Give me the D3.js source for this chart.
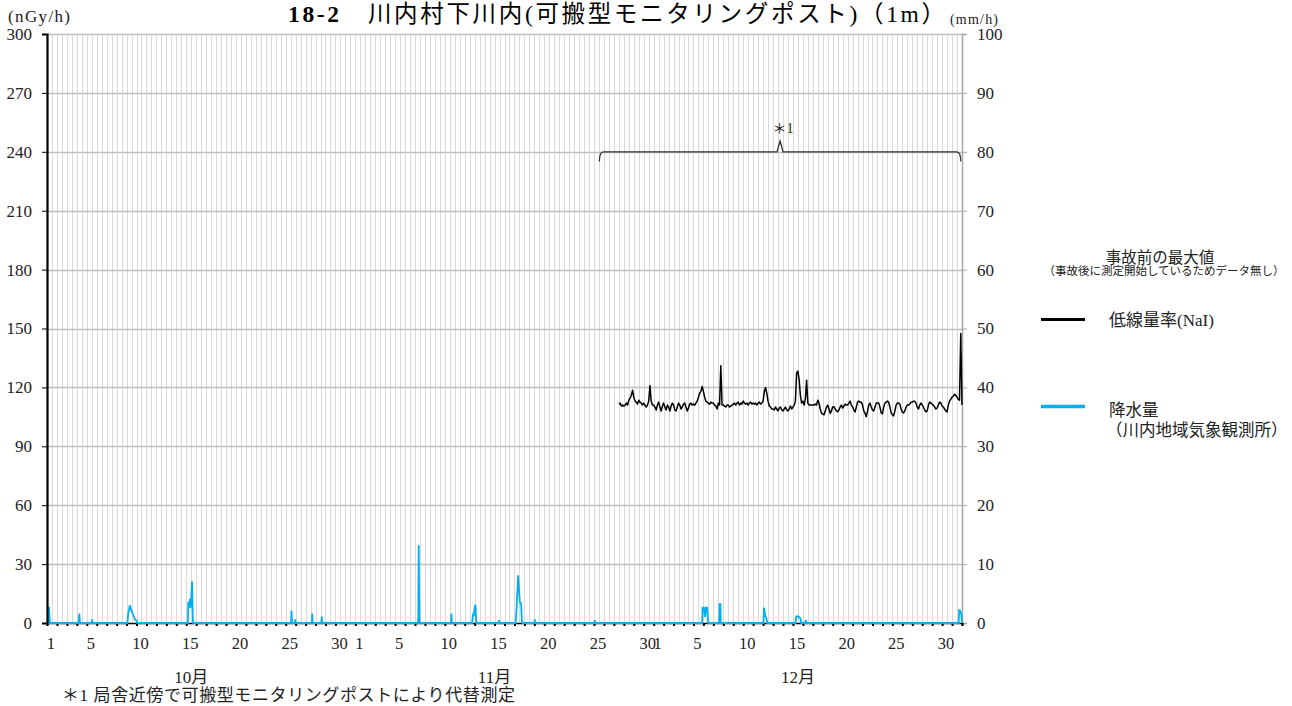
<!DOCTYPE html>
<html><head><meta charset="utf-8">
<script src="https://cdn.jsdelivr.net/npm/d3@7"></script>
<style>body{margin:0;background:#fff} svg{display:block}</style>
</head><body><svg id="c" width="1292" height="706"></svg>
<script>
// ---------- data ----------
const titleBold = "18-2";
const titleRest = "　川内村下川内(可搬型モニタリングポスト)（1m）";
const leftUnit = "(nGy/h)";
const rightUnit = "(mm/h)";
const leftTicks = [0,30,60,90,120,150,180,210,240,270,300];
const rightTicks = [0,10,20,30,40,50,60,70,80,90,100];
const periodStart = "2011-10-01T00";
const periodEnd = "2012-01-01T00";
const months = ["2011-10", "2011-11", "2011-12"];
const tickDays = [1,5,10,15,20,25,30];
const monthLabels = ["10月","11月","12月"];
const monthLabelAt = ["2011-10-15T12","2011-11-15T00","2011-12-15T12"];
const footnote = "＊1 局舎近傍で可搬型モニタリングポストにより代替測定";
const legendTitle = "事故前の最大値";
const legendSub = "（事故後に測定開始しているためデータ無し）";
const doseName = "低線量率(NaI)";
const rainName1 = "降水量";
const rainName2 = "（川内地域気象観測所）";
const bracketStart = "2011-11-25T13";
const bracketEnd = "2011-12-31T21";
const bracketLevel = 240;
const bracketNote = "＊1";

// dose rate (nGy/h), 3-hourly from doseStart
const doseStart = "2011-11-27T12";
const doseStepHours = 3;
const doseValues = [
 111.5,112,110.5,111,
 110.5,111,112,111,113.5,114.5,116,118.5,
 115,113,112.5,111.5,113.5,112.5,112,111,
 112,111,110,111,113,121,113,111,
 111,110,108.5,111,112.5,110,108,110.5,
 112,110,108.5,111,110,108,110.5,112,
 111,108.5,108,110,112,111,109,110,
 111.5,112,110,108,109.5,111.5,112,111,
 111.5,111,112,113,115,117,118,120.5,
 118,115,113,112.5,112,111.5,112.5,112,
 112,111,110.5,109,112,111,131,111,
 111,110.5,110,111,111,110,110.5,111,
 111.5,112,111,112,112.5,111,112,111.5,
 113,112,111.5,112,111,112,112.5,111.5,
 112,111.5,112,111,112,112.5,111.5,112,
 113,118,120,117,113,110.5,110,109,
 109,108.5,110,109,108,109.5,110,108.5,
 108,109,110,108.5,108,109,110.5,109,
 110,111,113,127.5,128.3,124,116,112,
 113,111,114,123.7,112,111,111,111,
 111,111,111.5,111,113.5,112,109,106.8,
 106.5,106,108,110,111,109,106.8,108,
 110,110.2,109,108,107.6,108.5,110,111,
 109.5,110.5,111.5,111,111,112,113,111,
 110,108.5,107.5,110,112.5,113,112.5,112.5,
 111,108,106.8,105.1,108,111,112,110,
 108.5,108,110,112,112,112,110,107,
 106.5,110,112,112.5,113,112.5,110,107,
 106,105.5,108,111,112,112,111.5,109,
 107.5,107,108,110,111,111,111.5,112.5,
 112.5,113,113,112,110,109,111,112,
 111,110,108.5,107.5,108,111,112.5,112,
 111.5,111,110,109,109.5,111,112.5,112,
 110.5,110,109,108,107.5,111,113,114,
 115,115.5,116.5,116,115,114,113.5,147.5,
 111
];

// precipitation (mm/h)
const rainTimes = [
 "2011-10-01T00","2011-10-01T04","2011-10-01T05","2011-10-01T06","2011-10-01T07",
 "2011-10-04T04","2011-10-04T06","2011-10-04T07","2011-10-04T08",
 "2011-10-05T12","2011-10-05T13","2011-10-05T14",
 "2011-10-09T02","2011-10-09T04","2011-10-09T08","2011-10-09T12","2011-10-09T16","2011-10-09T20","2011-10-10T00","2011-10-10T02",
 "2011-10-15T04","2011-10-15T05","2011-10-15T07","2011-10-15T09","2011-10-15T11","2011-10-15T14","2011-10-15T16","2011-10-15T17",
 "2011-10-25T13","2011-10-25T14","2011-10-25T15","2011-10-25T16","2011-10-25T22","2011-10-25T23","2011-10-26T00",
 "2011-10-27T15","2011-10-27T16","2011-10-27T17",
 "2011-10-28T14","2011-10-28T15","2011-10-28T16",
 "2011-11-07T07","2011-11-07T08","2011-11-07T09","2011-11-07T10","2011-11-07T11",
 "2011-11-10T15","2011-11-10T16","2011-11-10T17",
 "2011-11-12T18","2011-11-12T20","2011-11-12T22","2011-11-13T00","2011-11-13T02","2011-11-13T04",
 "2011-11-15T10","2011-11-15T11","2011-11-15T12",
 "2011-11-17T03","2011-11-17T05","2011-11-17T09","2011-11-17T13","2011-11-17T16","2011-11-17T18","2011-11-17T19",
 "2011-11-19T00","2011-11-19T01","2011-11-19T02",
 "2011-11-25T01","2011-11-25T02","2011-11-25T03",
 "2011-12-05T21","2011-12-05T22","2011-12-06T01","2011-12-06T04","2011-12-06T06","2011-12-06T09","2011-12-06T11","2011-12-06T12",
 "2011-12-07T14","2011-12-07T15","2011-12-07T17","2011-12-07T18",
 "2011-12-12T01","2011-12-12T02","2011-12-12T05","2011-12-12T09","2011-12-12T10",
 "2011-12-15T06","2011-12-15T08","2011-12-15T13","2011-12-15T18","2011-12-15T20",
 "2011-12-16T06","2011-12-16T07","2011-12-16T08",
 "2011-12-31T16","2011-12-31T17","2011-12-31T19","2011-12-31T22","2012-01-01T00"
];
const rainValues = [
 0,0,2.7,1.0,0,
 0,1.6,0.5,0,
 0,0.6,0,
 0,1.6,3.0,2.0,1.4,0.6,0.4,0,
 0,3.6,2.5,4.1,2.6,7.1,0.5,0,
 0,2.1,0.3,0,0,0.6,0,
 0,1.6,0,
 0,1.1,0,
 0,1.0,13.2,5.0,0,
 0,1.6,0,
 0,1.6,1.2,2.7,3.1,0,
 0,0.5,0,
 0,2.3,8.1,3.5,3.4,0.3,0,
 0,0.6,0,
 0,0.5,0,
 0,2.6,2.6,1.0,2.6,2.6,0.3,0,
 0,3.2,3.2,0,
 0,2.6,1.3,0.5,0,
 0,1.1,1.1,0.8,0,
 0,0.5,0,
 0,2.2,2.2,1.6,0
];

// ---------- drawing ----------
const parse = d3.utcParse("%Y-%m-%dT%H");
const font = "'Liberation Serif','Noto Sans CJK JP',serif";
const svg = d3.select("#c");
const L = 47, R = 962, T = 34, B = 623;

const x = d3.scaleUtc().domain([parse(periodStart), parse(periodEnd)]).range([L, R]);
const yL = d3.scaleLinear().domain([0, 300]).range([B, T]);
const yR = d3.scaleLinear().domain([0, 100]).range([B, T]);

// vertical grid (every 12 h)
const vGrid = d3.utcHour.every(12).range(d3.utcHour.offset(parse(periodStart), 12), parse(periodEnd));
svg.append("g").selectAll("line").data(vGrid).join("line")
  .attr("x1", d => Math.round(x(d)) + 0.5).attr("x2", d => Math.round(x(d)) + 0.5)
  .attr("y1", T).attr("y2", B).attr("stroke", "#d9d9d9").attr("stroke-width", 1);

// horizontal grid
svg.append("g").selectAll("line").data(leftTicks.filter(v => v > 0)).join("line")
  .attr("x1", L).attr("x2", R).attr("y1", d => Math.round(yL(d)) + 0.5).attr("y2", d => Math.round(yL(d)) + 0.5)
  .attr("stroke", "#bfbfbf").attr("stroke-width", 1.3);

// right axis
const ra = svg.append("g").attr("transform", `translate(${R},0)`)
  .call(d3.axisRight(yR).tickValues(rightTicks).tickSize(5).tickPadding(10).tickFormat(d3.format("d")));
ra.select(".domain").attr("stroke", "#a6a6a6").attr("stroke-width", 1.5);
ra.selectAll(".tick line").attr("stroke", "#a6a6a6");
ra.selectAll("text").attr("font-family", font).attr("font-size", 17).attr("fill", "#222");

// bottom axis (daily ticks)
const ba = svg.append("g").attr("transform", `translate(0,${B})`)
  .call(d3.axisBottom(x).ticks(d3.utcDay.every(1)).tickSize(3).tickFormat(""));
ba.select(".domain").attr("stroke", "#000").attr("stroke-width", 1.5);
ba.selectAll(".tick line").attr("stroke", "#000").attr("stroke-width", 2);

// rain line
const rain = rainTimes.map((t, i) => ({t: parse(t), v: rainValues[i]}));
svg.append("path").datum(rain)
  .attr("d", d3.line().x(d => x(d.t)).y(d => yR(d.v)))
  .attr("fill", "none").attr("stroke", "#00b0f0").attr("stroke-width", 1.8);

// dose line
const d0 = parse(doseStart);
const dose = doseValues.map((v, i) => ({t: d3.utcHour.offset(d0, i * doseStepHours), v}));
svg.append("path").datum(dose)
  .attr("d", d3.line().x(d => x(d.t)).y(d => yL(d.v)))
  .attr("fill", "none").attr("stroke", "#000").attr("stroke-width", 1.5).attr("stroke-linejoin", "round");

// left axis
const la = svg.append("g").attr("transform", `translate(${L},0)`)
  .call(d3.axisLeft(yL).tickValues(leftTicks).tickSize(5).tickPadding(10).tickFormat(d3.format("d")));
la.select(".domain").attr("stroke", "#000").attr("stroke-width", 2.2);
la.selectAll(".tick line").attr("stroke", "#000");
la.selectAll("text").attr("font-family", font).attr("font-size", 17).attr("fill", "#222");

// x tick labels
const xLabels = [];
months.forEach(m => tickDays.forEach(dd => {
  const t = parse(`${m}-${String(dd).padStart(2, "0")}T12`);
  if (t) xLabels.push({t, s: String(dd)});
}));
svg.append("g").selectAll("text").data(xLabels).join("text")
  .attr("x", d => x(d.t) - 1).attr("y", 649).attr("text-anchor", "middle")
  .attr("font-family", font).attr("font-size", 16.5).attr("fill", "#222").text(d => d.s);

// month labels
svg.append("g").selectAll("text").data(monthLabels).join("text")
  .attr("x", (d, i) => x(parse(monthLabelAt[i]))).attr("y", 683).attr("text-anchor", "middle")
  .attr("font-family", font).attr("font-size", 17).attr("fill", "#222").text(d => d);

// units
svg.append("text").attr("x", 8).attr("y", 22).attr("font-family", font).attr("font-size", 17)
  .attr("textLength", 62).attr("lengthAdjust", "spacing").attr("fill", "#222").text(leftUnit);
svg.append("text").attr("x", 950).attr("y", 24).attr("font-family", font).attr("font-size", 14)
  .attr("textLength", 48).attr("fill", "#222").text(rightUnit);

// title
const tt = svg.append("text").attr("x", 288).attr("y", 22).attr("font-family", font).attr("font-size", 23.5)
  .attr("textLength", 657).attr("lengthAdjust", "spacing").attr("fill", "#000");
tt.append("tspan").attr("font-weight", "bold").text(titleBold);
tt.append("tspan").text(titleRest);

// bracket
const bx0 = x(parse(bracketStart)), bx1 = x(parse(bracketEnd)), bxm = (bx0 + bx1) / 2;
const by = yL(bracketLevel), byEnd = yL(bracketLevel - 5), byPeak = yL(bracketLevel + 5.5);
svg.append("path")
  .attr("d", `M${bx0},${byEnd} Q${bx0},${by} ${bx0 + 4},${by} L${bxm - 3},${by} L${bxm},${byPeak} L${bxm + 3},${by} L${bx1 - 4},${by} Q${bx1},${by} ${bx1},${byEnd}`)
  .attr("fill", "none").attr("stroke", "#333").attr("stroke-width", 1.3);
svg.append("text").attr("x", bxm + 3).attr("y", 133).attr("text-anchor", "middle")
  .attr("font-family", font).attr("font-size", 14).attr("fill", "#222").text(bracketNote);

// footnote
svg.append("text").attr("x", 62).attr("y", 701).attr("font-family", font).attr("font-size", 17)
  .attr("textLength", 453).attr("lengthAdjust", "spacing").attr("fill", "#222").text(footnote);

// legend
svg.append("text").attr("x", 1160).attr("y", 263).attr("text-anchor", "middle").attr("font-family", font).attr("font-size", 15.5).attr("fill", "#222").text(legendTitle);
svg.append("text").attr("x", 1164).attr("y", 275).attr("text-anchor", "middle").attr("font-family", font).attr("font-size", 11.5).attr("fill", "#222").text(legendSub);
svg.append("line").attr("x1", 1041).attr("x2", 1085).attr("y1", 319.5).attr("y2", 319.5).attr("stroke", "#000").attr("stroke-width", 3);
svg.append("text").attr("x", 1109).attr("y", 326).attr("font-family", font).attr("font-size", 17).attr("fill", "#222").text(doseName);
svg.append("line").attr("x1", 1041).attr("x2", 1085).attr("y1", 406.5).attr("y2", 406.5).attr("stroke", "#00b0f0").attr("stroke-width", 3.5);
svg.append("text").attr("x", 1109).attr("y", 416).attr("font-family", font).attr("font-size", 16.5).attr("fill", "#222").text(rainName1);
svg.append("text").attr("x", 1106).attr("y", 436).attr("font-family", font).attr("font-size", 16.5).attr("fill", "#222").text(rainName2);
</script></body></html>
